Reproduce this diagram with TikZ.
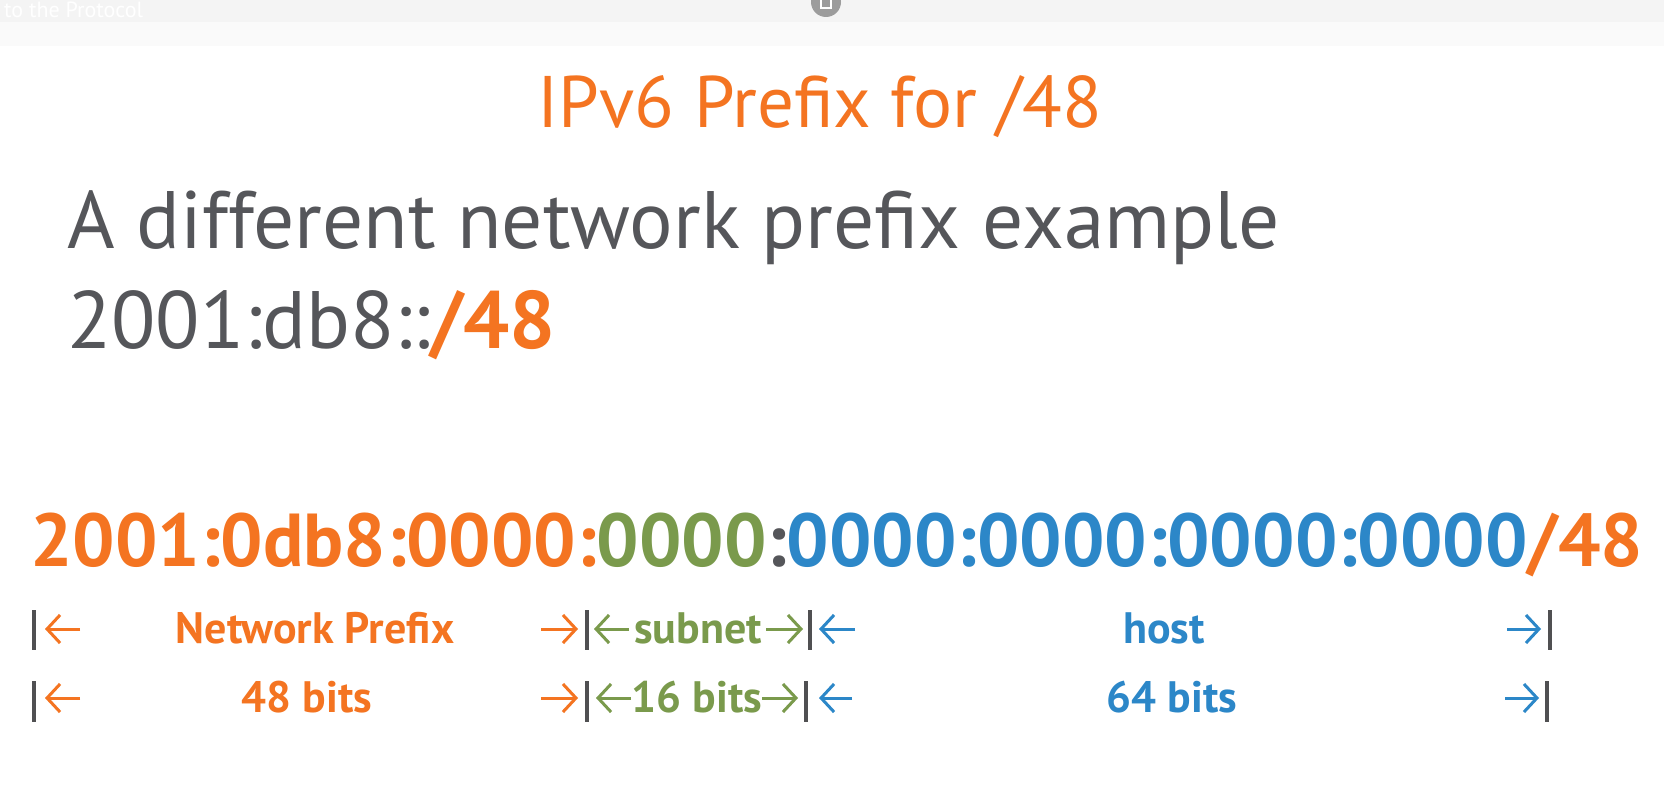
\documentclass[tikz,border=0pt]{standalone}
\usepackage{fontspec}
\setmainfont{PT Sans}
\usetikzlibrary{arrows.meta}
\definecolor{vorange}{HTML}{F47421}
\definecolor{vgreen}{HTML}{7A9A4C}
\definecolor{vblue}{HTML}{2C87C8}
\definecolor{vgray}{HTML}{55565A}
\definecolor{vbar}{HTML}{505052}
\definecolor{bandA}{HTML}{F4F4F4}
\definecolor{bandB}{HTML}{FAFAFA}
\definecolor{iconc}{HTML}{9C9C9C}
\tikzset{
  titletext/.style={anchor=base, inner sep=0pt, text=vorange, font=\fontsize{73}{73}\selectfont},
  bodytext/.style={anchor=base west, inner sep=0pt, text=vgray, font=\fontsize{81.4}{81.4}\selectfont},
  bigtext/.style={anchor=base west, inner sep=0pt, font=\bfseries\fontsize{75}{75}\selectfont},
  lbltext/.style={anchor=base, inner sep=0pt, font=\bfseries\fontsize{44}{44}\selectfont},
  barline/.style={draw=vbar, line width=3.5pt},
  dimarrow/.style={line width=3pt, -{Straight Barb[length=13pt,width=28pt]}},
}
\begin{document}
\begin{tikzpicture}[x=1pt,y=-1pt]
\useasboundingbox (0,0) rectangle (1664,802);
\fill[white] (0,0) rectangle (1664,802);
% faint header band
\fill[bandB] (0,0) rectangle (1664,46);
\fill[bandA] (0,0) rectangle (1664,22);
\node[anchor=base west, inner sep=0pt, text=white, font=\fontsize{22}{22}\selectfont] (hdr) at (4,18) {to the Protocol};
\fill[iconc] (826,2) circle (15);
\draw[white, line width=1.5pt] (821,-4) rectangle (831,8);

% headings
\node[titletext] (title) at (820,128) {IPv6 Prefix for /48};
\node[bodytext] (line1) at (67,249) {A different network prefix example};
\node[bodytext] (line2) at (67,348) {2001:db8::\textcolor{vorange}{\bfseries /48}};

% full address
\node[bigtext] (addr) at (30,566) {\textcolor{vorange}{2001:0db8:0000:}\textcolor{vgreen}{0000}\textcolor{vgray}{:}\textcolor{vblue}{0000:0000:0000:0000}\textcolor{vorange}{/48}};

% row 1 bars
\foreach \n/\x in {a/34,b/587,c/810,d/1550}{
  \coordinate (r1\n t) at (\x,610);
  \coordinate (r1\n b) at (\x,650);
  \draw[barline] (r1\n t) -- (r1\n b);
}
% row 2 bars
\foreach \n/\x in {a/34,b/587,c/806,d/1547}{
  \coordinate (r2\n t) at (\x,681);
  \coordinate (r2\n b) at (\x,722);
  \draw[barline] (r2\n t) -- (r2\n b);
}

% row 1 labels
\node[lbltext, text=vorange] (netp) at (315,643) {Network Prefix};
\node[lbltext, text=vgreen] (subn) at (698,643) {subnet};
\node[lbltext, text=vblue] (host) at (1164,643) {host};
% row 2 labels
\node[lbltext, text=vorange] (b48) at (307,712) {48 bits};
\node[lbltext, text=vgreen] (b16) at (697,712) {16 bits};
\node[lbltext, text=vblue] (b64) at (1172,712) {64 bits};

% row 1 arrows
\coordinate (a1s) at (80,629);   \coordinate (a1e) at (45,629);
\coordinate (a2s) at (541,629);  \coordinate (a2e) at (578,629);
\coordinate (a3s) at (629,629);  \coordinate (a3e) at (594,629);
\coordinate (a4s) at (766,629);  \coordinate (a4e) at (803,629);
\coordinate (a5s) at (855,629);  \coordinate (a5e) at (819,629);
\coordinate (a6s) at (1507,629); \coordinate (a6e) at (1541,629);
\draw[dimarrow, vorange] (a1s) -- (a1e);
\draw[dimarrow, vorange] (a2s) -- (a2e);
\draw[dimarrow, vgreen] (a3s) -- (a3e);
\draw[dimarrow, vgreen] (a4s) -- (a4e);
\draw[dimarrow, vblue] (a5s) -- (a5e);
\draw[dimarrow, vblue] (a6s) -- (a6e);

% row 2 arrows
\coordinate (c1s) at (80,698);   \coordinate (c1e) at (45,698);
\coordinate (c2s) at (541,698);  \coordinate (c2e) at (578,698);
\coordinate (c3s) at (631,698);  \coordinate (c3e) at (596,698);
\coordinate (c4s) at (762,698);  \coordinate (c4e) at (798,698);
\coordinate (c5s) at (852,698);  \coordinate (c5e) at (819,698);
\coordinate (c6s) at (1505,698); \coordinate (c6e) at (1539,698);
\draw[dimarrow, vorange] (c1s) -- (c1e);
\draw[dimarrow, vorange] (c2s) -- (c2e);
\draw[dimarrow, vgreen] (c3s) -- (c3e);
\draw[dimarrow, vgreen] (c4s) -- (c4e);
\draw[dimarrow, vblue] (c5s) -- (c5e);
\draw[dimarrow, vblue] (c6s) -- (c6e);
\end{tikzpicture}
\end{document}
